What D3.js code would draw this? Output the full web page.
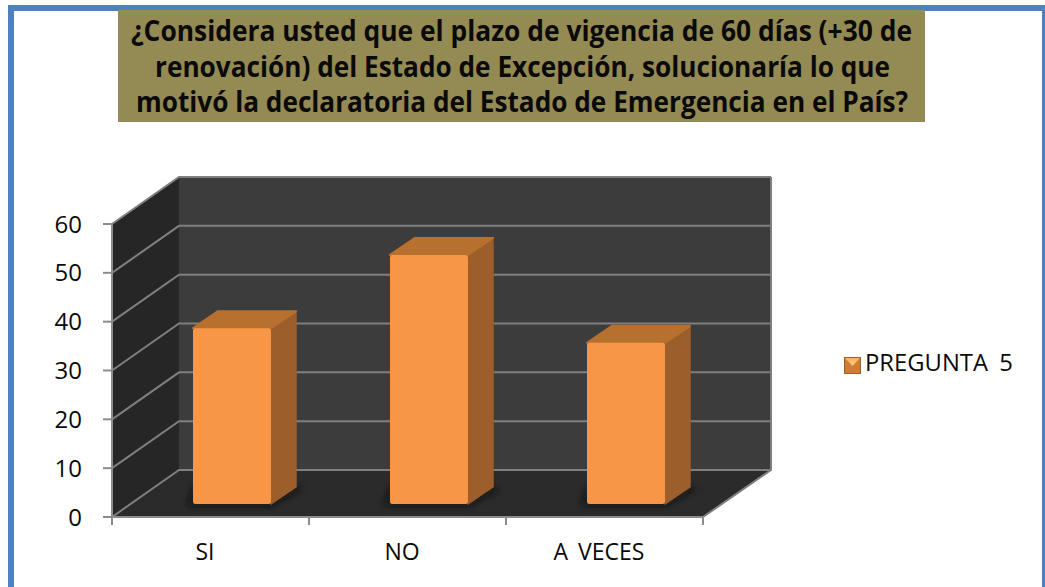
<!DOCTYPE html>
<html><head><meta charset="utf-8">
<script src="https://cdn.jsdelivr.net/npm/d3@7"></script>
<style>html,body{margin:0;padding:0;background:#fff}svg{display:block}text{font-family:"Open Sans",sans-serif;fill:#0a0a0a}</style>
</head><body><svg id="c" width="1045" height="587"></svg>
<script>
const categories = ["SI", "NO", "A VECES"];
const values = [36, 51, 33];
const seriesName = "PREGUNTA 5";
const yTicks = [0, 10, 20, 30, 40, 50, 60];
const titleLines = [
  "¿Considera usted que el plazo de vigencia de 60 días (+30 de",
  "renovación) del Estado de Excepción, solucionaría lo que",
  "motivó la declaratoria del Estado de Emergencia en el País?"
];
const titleExtents = [[131, 912], [155, 890], [136, 908]];

const svg = d3.select("#c");
const defs = svg.append("defs");
const blur = defs.append("filter").attr("id", "blur").attr("x", "-30%").attr("y", "-100%").attr("width", "160%").attr("height", "300%");
blur.append("feGaussianBlur").attr("stdDeviation", 3.5);
const lg = defs.append("linearGradient").attr("id", "sw").attr("x1", 0).attr("y1", 0).attr("x2", 0).attr("y2", 1);
lg.append("stop").attr("offset", "0%").attr("stop-color", "#FBB45E");
lg.append("stop").attr("offset", "100%").attr("stop-color", "#F8CF7A");

// frame
svg.append("path").attr("d", "M11,587V8H1045").attr("fill", "none").attr("stroke", "#4F81BD").attr("stroke-width", 6);
svg.append("rect").attr("x", 1042).attr("y", 5).attr("width", 3).attr("height", 582).attr("fill", "#4F81BD");

// title
svg.append("rect").attr("x", 118).attr("y", 10).attr("width", 807).attr("height", 112).attr("fill", "#948A54");
svg.append("g").selectAll("text").data(titleLines).join("text")
  .attr("x", (d, i) => titleExtents[i][0]).attr("y", (d, i) => 41 + i * 35.5)
  .attr("textLength", (d, i) => titleExtents[i][1] - titleExtents[i][0])
  .attr("lengthAdjust", "spacingAndGlyphs")
  .attr("font-size", 28).attr("font-weight", 700).text(d => d);

// scales (front plane) and depth offset
const y = d3.scaleLinear().domain([0, 60]).range([517, 224]);
const x = d3.scaleBand().domain(categories).range([112, 703]);
const depth = { dx: 67, dy: -47 };
const xL = x.range()[0], xR = x.range()[1];
const bw = 78, bdx = 25, bdy = -17;
const barShift = { dx: 21.5, dy: -13 };

const poly = (pts, fill) => svg.append("polygon").attr("points", pts.map(p => p.join(",")).join(" ")).attr("fill", fill);
const top60 = y(60), base = y(0);
// walls
poly([[xL + depth.dx, base + depth.dy], [xR + depth.dx + 1, base + depth.dy], [xR + depth.dx + 1, top60 + depth.dy], [xL + depth.dx, top60 + depth.dy]], "#3C3C3C");
poly([[xL, base], [xL + depth.dx, base + depth.dy], [xL + depth.dx, top60 + depth.dy], [xL, top60]], "#262626");
poly([[xL, base], [xR, base], [xR + depth.dx + 1, base + depth.dy], [xL + depth.dx, base + depth.dy]], "#2B2B2B");

// gridlines
const grid = svg.append("g").attr("fill", "none").attr("stroke", "#7F7F7F").attr("stroke-width", 2);
yTicks.forEach(t => {
  const py = y(t);
  grid.append("path").attr("d", `M${xL},${py}L${xL + depth.dx},${py + depth.dy}H${xR + depth.dx + 1}`);
});
grid.append("path").attr("d", `M${xR + depth.dx + 1},${top60 + depth.dy}V${base + depth.dy}L${xR},${base}`);

// axes
const axisG = svg.append("g").attr("stroke", "#8C8C8C").attr("stroke-width", 2).attr("fill", "none");
axisG.append("path").attr("d", `M${xL},${top60}V${base + 8}M${xL},${base}H${xR}V${base + 8}`);
x.domain().forEach(c => axisG.append("path").attr("d", `M${x(c)},${base}V${base + 8}`));
yTicks.forEach(t => axisG.append("path").attr("d", `M${xL - 9},${y(t)}H${xL}`));

svg.append("g").selectAll("text").data(yTicks).join("text")
  .attr("x", 82).attr("y", d => y(d) + 8.5).attr("text-anchor", "end").attr("font-size", 24).text(d => d);
svg.append("g").selectAll("text").data(categories).join("text")
  .attr("x", c => x(c) + x.bandwidth() / 2 - 5.5).attr("y", 560)
  .attr("text-anchor", "middle").attr("font-size", 23).attr("word-spacing", 4).text(c => c);

// bars
const barH = v => y(0) - y(v);
const bars = svg.append("g").selectAll("g").data(categories.map((c, i) => ({ c, v: values[i] }))).join("g")
  .attr("transform", d => `translate(${x(d.c) + (x.bandwidth() - bw) / 2 + barShift.dx},${base + barShift.dy})`);
bars.append("polygon").attr("points", `-6,2 ${bw},2 ${bw + bdx + 8},${bdy + 1} ${bw + 5},${bdy} 0,${bdy}`)
  .attr("fill", "#111").attr("opacity", .7).attr("filter", "url(#blur)");
bars.append("polygon").attr("points", d => `${bw},0 ${bw + bdx},${bdy} ${bw + bdx},${-barH(d.v) + bdy} ${bw},${-barH(d.v)}`)
  .attr("fill", "#9C5E2B").attr("stroke", "#9C5E2B").attr("stroke-width", 1.5).attr("stroke-linejoin", "round");
bars.append("polygon").attr("points", d => `0,${-barH(d.v)} ${bdx},${-barH(d.v) + bdy} ${bw + bdx},${-barH(d.v) + bdy} ${bw},${-barH(d.v)}`)
  .attr("fill", "#B8702F").attr("stroke", "#B8702F").attr("stroke-width", 2).attr("stroke-linejoin", "round");
bars.append("rect").attr("x", 0).attr("y", d => -barH(d.v)).attr("width", bw).attr("height", d => barH(d.v)).attr("rx", 2.5).attr("fill", "#F79646");

// legend
const lgd = svg.append("g").attr("transform", "translate(844,357)");
lgd.append("rect").attr("width", 17).attr("height", 17).attr("fill", "#D07C35");
lgd.append("polygon").attr("points", "1,1 16,1 8.5,9").attr("fill", "url(#sw)");
lgd.append("rect").attr("x", .5).attr("y", .5).attr("width", 16).attr("height", 16).attr("fill", "none").attr("stroke", "#9C5E2B");
svg.append("text").attr("x", 865).attr("y", 371).attr("font-size", 23).attr("word-spacing", 5).attr("textLength", 148).attr("lengthAdjust", "spacingAndGlyphs").text(seriesName);
</script></body></html>
